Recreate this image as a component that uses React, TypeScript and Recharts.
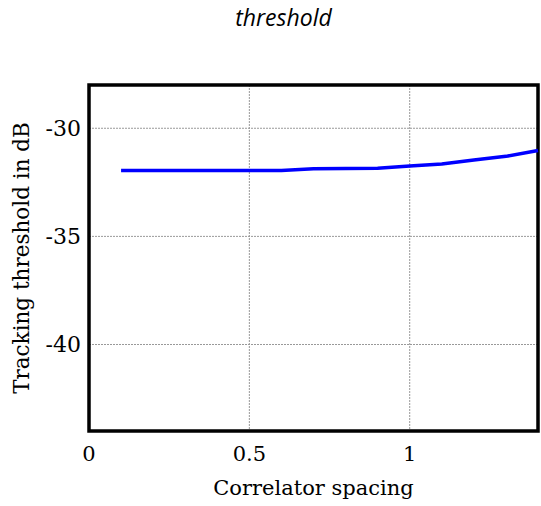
import React from 'react';
import { LineChart, Line, XAxis, YAxis, CartesianGrid, ReferenceArea } from 'recharts';

const spacing = [0.1, 0.2, 0.3, 0.4, 0.5, 0.6, 0.7, 0.8, 0.9, 1.0, 1.1, 1.2, 1.3, 1.4];
const threshold = [-31.95, -31.95, -31.95, -31.95, -31.95, -31.95, -31.87, -31.86, -31.85, -31.75, -31.65, -31.47, -31.3, -31.03];
const xTicks = [0, 0.5, 1];
const yTicks = [-40, -35, -30];
const xDomain = [0, 1.4];
const yDomain = [-44, -28];

const data = spacing.map((x, i) => ({ x, y: threshold[i] }));

const serif = '"DejaVu Serif", serif';

export default function App() {
  return (
    <div style={{ position: 'absolute', left: 0, top: 0, width: 541, height: 506, background: '#fff' }}>
      <div
        style={{
          position: 'absolute',
          left: 0,
          width: 567,
          top: 1,
          textAlign: 'center',
          fontFamily: '"Open Sans", sans-serif',
          fontStyle: 'italic',
          fontSize: 23,
          color: '#000',
        }}
      >
        threshold
      </div>
      <LineChart width={541} height={506} data={data} margin={{ top: 85, right: 3, bottom: 0, left: 0 }}>
        <CartesianGrid stroke="#999" strokeDasharray="2 1" strokeWidth={1} />
        <XAxis
          dataKey="x"
          type="number"
          domain={xDomain}
          ticks={xTicks}
          height={75}
          tickLine={false}
          axisLine={false}
          tickSize={0}
          tickMargin={15}
          tick={{ fill: '#000', fontSize: 21, fontFamily: serif }}
          label={{ value: 'Correlator spacing', position: 'insideBottom', offset: 11, fill: '#000', fontSize: 21, fontFamily: serif }}
        />
        <YAxis
          type="number"
          domain={yDomain}
          ticks={yTicks}
          width={89}
          tickLine={false}
          axisLine={false}
          tickSize={0}
          tickMargin={8}
          tick={{ fill: '#000', fontSize: 22, fontFamily: serif }}
          label={{ value: 'Tracking threshold in dB', angle: -90, position: 'insideLeft', offset: 21, fill: '#000', fontSize: 21.5, fontFamily: serif, style: { textAnchor: 'middle' } }}
        />
        <ReferenceArea x1={xDomain[0]} x2={xDomain[1]} y1={yDomain[0]} y2={yDomain[1]} fill="none" stroke="#000" strokeWidth={3.5} fillOpacity={0} />
        <Line type="linear" dataKey="y" stroke="#0000ff" strokeWidth={3.5} dot={false} isAnimationActive={false} />
      </LineChart>
    </div>
  );
}
